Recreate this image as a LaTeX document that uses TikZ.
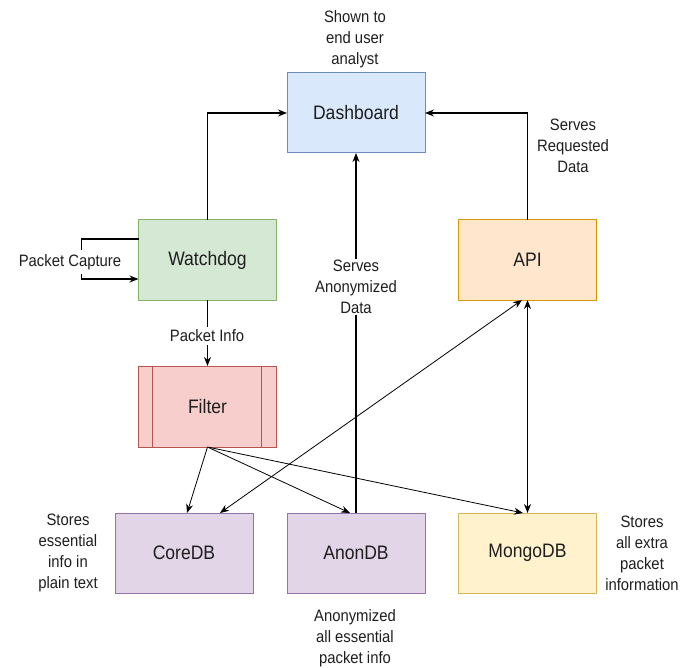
\documentclass[tikz,border=0pt]{standalone}
\usepackage{fontspec}
\setmainfont{Liberation Sans}[FakeStretch=0.9]
\usetikzlibrary{arrows.meta}
\definecolor{txt}{HTML}{1E1E1E}
\definecolor{blueF}{HTML}{DAE8FC}\definecolor{blueD}{HTML}{6C8EBF}
\definecolor{greenF}{HTML}{D5E8D4}\definecolor{greenD}{HTML}{82B366}
\definecolor{redF}{HTML}{F8CECC}\definecolor{redD}{HTML}{B85450}
\definecolor{orangeF}{HTML}{FFE6CC}\definecolor{orangeD}{HTML}{D79B00}
\definecolor{purpleF}{HTML}{E1D5E7}\definecolor{purpleD}{HTML}{9673A6}
\definecolor{yellowF}{HTML}{FFF2CC}\definecolor{yellowD}{HTML}{D6B656}
\begin{document}
\begin{tikzpicture}[x=1pt,y=-1pt,
  box/.style={draw, line width=1pt, minimum width=138pt, minimum height=80pt,
    outer sep=0pt, inner sep=0pt, text=txt, font=\fontsize{19.5}{23}\selectfont},
  lbl/.style={align=center, text=txt, inner sep=1pt,
    font=\fontsize{16.5}{21}\selectfont},
  cover/.style={lbl, fill=white},
  arr/.style={line width=1.1pt, -{Stealth[length=9pt,width=7pt]}},
  darr/.style={line width=1.1pt, {Stealth[length=9pt,width=7pt]}-{Stealth[length=9pt,width=7pt]}},
  thin arr/.style={line width=0.8pt, -{Stealth[length=9pt,width=7pt]}},
  thin darr/.style={line width=0.8pt, {Stealth[length=9pt,width=7pt]}-{Stealth[length=9pt,width=7pt]}}]
\useasboundingbox (0,0) rectangle (690,668);

% components
\node[box, fill=blueF, draw=blueD] (dash) at (356,113) {Dashboard};
\node[box, fill=greenF, draw=greenD] (watch) at (207.5,260) {Watchdog};
\node[box, fill=orangeF, draw=orangeD] (api) at (527.5,260) {API};
\node[box, fill=redF, draw=redD, minimum height=81pt] (filter) at (207.5,406.5) {Filter};
\draw[redD, line width=1pt] ([xshift=14pt]filter.north west) -- ([xshift=14pt]filter.south west)
  ([xshift=-15pt]filter.north east) -- ([xshift=-15pt]filter.south east);
\node[box, fill=purpleF, draw=purpleD] (core) at (184,553) {CoreDB};
\node[box, fill=purpleF, draw=purpleD] (anon) at (356,553) {AnonDB};
\node[box, fill=yellowF, draw=yellowD] (mongo) at (527.5,553) {MongoDB};

% flows into the dashboard
\draw[arr] (watch.north) |- (dash.west);
\draw[arr] (api.north) |- (dash.east);
\draw[arr] (anon.north) -- (dash.south);
\node[cover] at (356,287) {Serves\\Anonymized\\Data};

% packet capture loop
\draw[arr] ([yshift=21pt]watch.west) -- ++(-57,0) -- ++(0,40) -- ([yshift=-19pt]watch.west);
\node[cover, inner sep=4pt] at (70,262) {Packet Capture};

% watchdog to filter
\draw[arr] (watch.south) -- (filter.north);
\node[cover, inner sep=3pt] at (207,336) {Packet Info};

% filter outputs
\draw[thin arr] (filter.south) -- ([xshift=3pt]core.north);
\draw[thin arr] (filter.south) -- ([xshift=-6pt]anon.north);
\draw[thin arr] (filter.south) -- ([xshift=-4.5pt]mongo.north);

% API links
\draw[thin darr] ([xshift=36pt]core.north) -- ([xshift=-5.5pt]api.south);
\draw[darr] (api.south) -- (mongo.north);

% annotations
\node[lbl] at (355,39) {Shown to\\end user\\analyst};
\node[lbl] at (573,146) {Serves\\Requested\\Data};
\node[lbl] at (68,553) {Stores\\essential\\info in\\plain text};
\node[lbl] at (642,553) {Stores\\all extra\\packet\\information};
\node[lbl] at (355,638) {Anonymized\\all essential\\packet info};
\end{tikzpicture}
\end{document}
